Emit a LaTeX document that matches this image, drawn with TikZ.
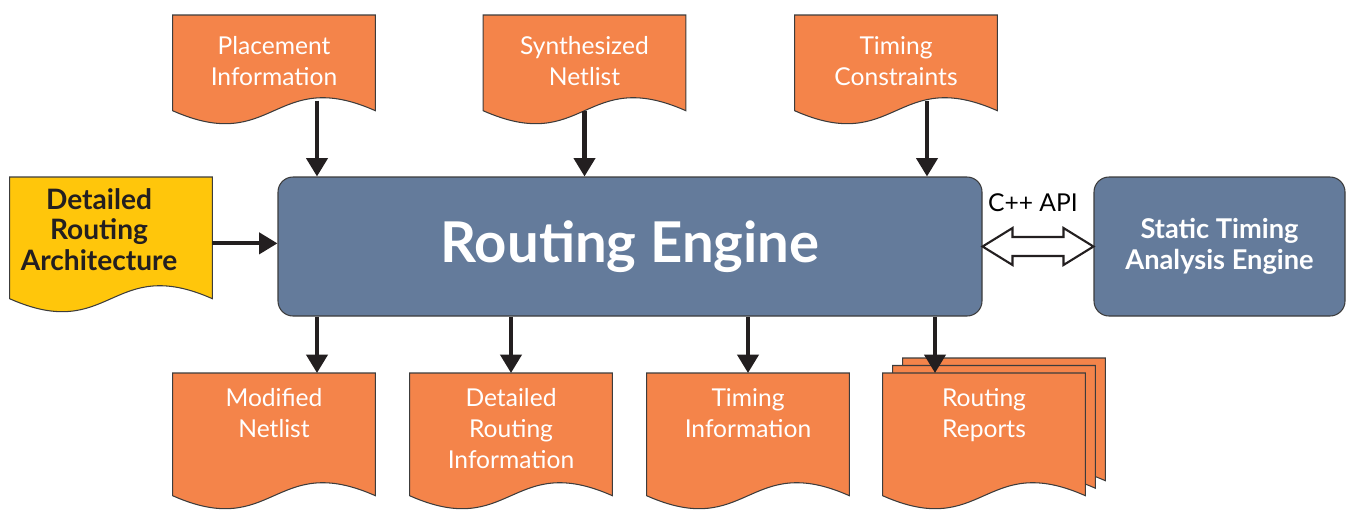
\documentclass[tikz,border=0pt]{standalone}
\usepackage{fontspec}
\setmainfont{Lato}
\usetikzlibrary{arrows.meta,backgrounds,calc,positioning}

\definecolor{docorange}{HTML}{F4844A}
\definecolor{archyellow}{HTML}{FFC60B}
\definecolor{engineblue}{HTML}{647B9B}
\definecolor{edgegray}{HTML}{3C3C3C}
\definecolor{inkblack}{HTML}{231F20}

\tikzset{
  docbody/.style 2 args={inner sep=0pt, text=white, font=\fontsize{14}{17.6}\selectfont,
    execute at begin node={\begin{minipage}[t][#1][t]{4.04cm}\centering\vspace*{#2}},
    execute at end node={\end{minipage}}},
  docline/.style={draw=edgegray, line width=0.6pt},
  engine/.style={draw=edgegray, line width=0.6pt, fill=engineblue, rounded corners=0.3cm,
    text=white, align=center},
  flow/.style={draw=inkblack, line width=2.3pt, -{Triangle[width=12pt,length=10.5pt]}},
  apiarrow/.style={draw=inkblack, line width=1.2pt, fill=white, line join=miter},
}

% wavy paper outline behind a node: node, offset, fill
\newcommand{\wavydoc}[3]{%
  \draw[docline, fill=#3] ($(#1.north west)+(#2)$) -- ($(#1.north east)+(#2)$)
    -- ($(#1.south east)+(#2)$)
    .. controls ($(#1.south)+(#2)+(0,0.9)$) and ($(#1.south)+(#2)+(0,-0.9)$)
    .. ($(#1.south west)+(#2)$) -- cycle;}

\begin{document}
\begin{tikzpicture}
\useasboundingbox (0,0) rectangle (26.94,-10.18);

% inputs
\node[docbody={1.9cm}{0.43cm}, anchor=north] (place) at (5.48,-0.30) {Placement\\Information};
\node[docbody={1.9cm}{0.43cm}, anchor=north] (synth) at (11.69,-0.30) {Synthesized\\Netlist};
\node[docbody={1.9cm}{0.43cm}, anchor=north] (constr) at (17.92,-0.30) {Timing\\Constraints};
\node[docbody={2.42cm}{0.22cm}, anchor=north, text=inkblack, font=\bfseries\fontsize{16}{17.4}\selectfont]
  (arch) at (2.22,-3.54) {\rightskip=0.48cm plus 1fil Detailed\\Routing\\Architecture\par};

% engines
\node[engine, minimum width=14.08cm, minimum height=2.78cm, font=\bfseries\fontsize{32}{38}\selectfont]
  (engine) at (12.6,-4.93) {Routing Engine};
\node[engine, minimum width=5.02cm, minimum height=2.78cm, font=\bfseries\fontsize{15.5}{17.6}\selectfont]
  (sta) at (24.39,-4.93) {Static Timing\\Analysis Engine};

% outputs
\node[docbody={2.44cm}{0.31cm}, anchor=north] (modnet) at (5.48,-7.46) {Modified\\Netlist};
\node[docbody={2.44cm}{0.31cm}, anchor=north] (detinfo) at (10.22,-7.46) {Detailed\\Routing\\Information};
\node[docbody={2.44cm}{0.31cm}, anchor=north] (timinfo) at (14.96,-7.46) {Timing\\Information};
\node[docbody={2.44cm}{0.31cm}, anchor=north] (reports) at (19.68,-7.46) {Routing\\Reports};

\begin{scope}[on background layer]
\foreach \n in {place,synth,constr,modnet,detinfo,timinfo}
  \wavydoc{\n}{0,0}{docorange};
\wavydoc{arch}{0,0}{archyellow}
\wavydoc{reports}{0.4,0.3}{docorange}
\wavydoc{reports}{0.2,0.15}{docorange}
\wavydoc{reports}{0,0}{docorange}
\end{scope}

\draw[flow] ([xshift=0.86cm,yshift=0.2cm]place.south) -- ([xshift=0.86cm]place.south |- engine.north);
\draw[flow] (synth.south) -- (synth.south |- engine.north);
\draw[flow] ([xshift=0.62cm,yshift=0.2cm]constr.south) -- ([xshift=0.62cm]constr.south |- engine.north);
\draw[flow] ([yshift=-0.11cm]arch.east) -- ([yshift=-0.11cm]arch.east -| engine.west);

\draw[flow] ([xshift=0.86cm]modnet.north |- engine.south) -- ([xshift=0.86cm]modnet.north);
\draw[flow] (detinfo.north |- engine.south) -- (detinfo.north);
\draw[flow] (timinfo.north |- engine.south) -- (timinfo.north);
\draw[flow] ([xshift=-0.98cm]reports.north |- engine.south) -- ([xshift=-0.98cm]reports.north);

% hollow two-way link to the timing engine
\draw[apiarrow] (engine.east) -- ++(0.6,0.37) -- ++(0,-0.18)
  -- ($(sta.west)+(-0.6,0.19)$) -- ++(0,0.18) -- (sta.west) -- ++(-0.6,-0.37) -- ++(0,0.18)
  -- ($(engine.east)+(0.6,-0.19)$) -- ++(0,-0.18) -- cycle;
\node[font=\fontsize{14}{17}\selectfont, inner sep=0pt] (apilabel)
  at ($(engine.east)!0.5!(sta.west)+(-0.1,0.87)$) {C++ API};
\end{tikzpicture}
\end{document}
